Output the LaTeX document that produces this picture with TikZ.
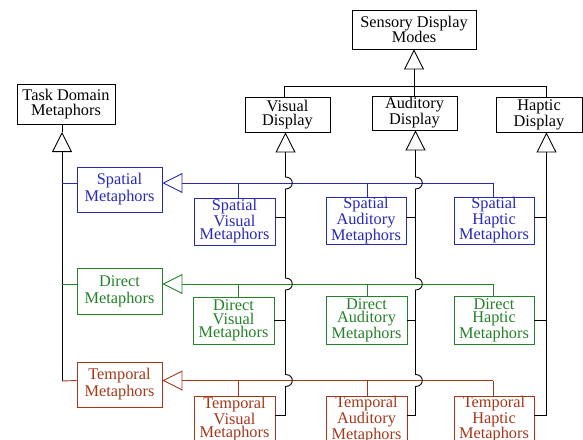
\documentclass[tikz,border=0pt]{standalone}
\usepackage{fontspec}
\setmainfont{Liberation Serif}
\usetikzlibrary{arrows.meta}
\definecolor{cblue}{RGB}{40,40,185}
\definecolor{cgreen}{RGB}{35,130,40}
\definecolor{cbrown}{RGB}{165,55,25}
\begin{document}
\begin{tikzpicture}[x=1pt,y=-1pt,line width=0.9pt,
  box/.style={draw,rectangle,inner sep=0pt,align=center,
    font=\fontsize{16.3}{14.5}\selectfont},
  lbox/.style={box,font=\fontsize{16.3}{17}\selectfont},
  tbox/.style={box,font=\fontsize{16.3}{13.2}\selectfont},
  inh/.style={-{Triangle[open,length=20pt,width=20pt,line width=0.9pt]}},
  bump/.style={}]
\useasboundingbox (0,0) rectangle (583,439);
% top boxes
\node[box,minimum width=124pt,minimum height=39pt] (sdm) at (414,29.5) {Sensory Display\\Modes};
\node[box,minimum width=85pt,minimum height=35pt] (vd) at (287.5,114.5) {Visual\\Display};
\node[box,minimum width=85pt,minimum height=34pt] (ad) at (414.5,113) {Auditory\\Display};
\node[box,minimum width=86pt,minimum height=35pt] (hd) at (539,114.5) {Haptic\\Display};
\node[box,minimum width=98pt,minimum height=40pt] (tdm) at (66,104) {Task Domain\\Metaphors};
% left metaphor boxes
\node[lbox,cblue,minimum width=85pt,minimum height=45pt] (sm) at (119.5,189.5) {Spatial\\Metaphors};
\node[lbox,cgreen,minimum width=85pt,minimum height=46pt] (dm) at (119.5,291) {Direct\\Metaphors};
\node[lbox,cbrown,minimum width=85pt,minimum height=45pt] (tm) at (119.5,384.5) {Temporal\\Metaphors};
% grid boxes
\node[tbox,cblue,minimum width=81pt,minimum height=47pt] (svm) at (234.5,221.5) {Spatial\\Visual\\Metaphors};
\node[tbox,cblue,minimum width=80pt,minimum height=47pt] (sam) at (366,220.5) {Spatial\\Auditory\\Metaphors};
\node[tbox,cblue,minimum width=80pt,minimum height=47pt] (shm) at (494,220.5) {Spatial\\Haptic\\Metaphors};
\node[tbox,cgreen,minimum width=81pt,minimum height=47pt] (dvm) at (233.5,320.5) {Direct\\Visual\\Metaphors};
\node[tbox,cgreen,minimum width=81pt,minimum height=48pt] (dam) at (366.5,320) {Direct\\Auditory\\Metaphors};
\node[tbox,cgreen,minimum width=80pt,minimum height=48pt] (dhm) at (494,320) {Direct\\Haptic\\Metaphors};
\node[tbox,cbrown,minimum width=81pt,minimum height=47pt] (tvm) at (234.5,419.5) {Temporal\\Visual\\Metaphors};
\node[tbox,cbrown,minimum width=81pt,minimum height=47pt] (tam) at (366.5,419.5) {Temporal\\Auditory\\Metaphors};
\node[tbox,cbrown,minimum width=80pt,minimum height=47pt] (thm) at (494,419.5) {Temporal\\Haptic\\Metaphors};
% coordinates
\coordinate (sj) at (414,86);
\coordinate (vj) at (284,86);
\coordinate (hj) at (546,86);
\coordinate (tj) at (62,132);
\coordinate (tb) at (62,381);
\coordinate (rowS) at (0,183);
\coordinate (rowD) at (0,284);
\coordinate (rowT) at (0,380.5);
\coordinate (dA) at (238,0);
\coordinate (dB) at (367,0);
\coordinate (dC) at (493,0);
\coordinate (vx) at (285.5,0);
\coordinate (ax) at (415.5,0);
\coordinate (hx) at (546.5,0);
\coordinate (cS) at (0,217.5);
\coordinate (cD) at (0,320);
\coordinate (cT) at (0,415);
% sensory tree
\draw[inh] (sj) -- (sdm.south);
\draw (vj) -- (hj);
\draw (vj) -- (vj |- vd.north);
\draw (hj) -- (hj |- hd.north);
\draw (sj) -- (sj |- ad.north);
% task domain
\draw (tj) -- (tj |- tdm.south);
\draw[inh] (tb) -- (tj);
% rows
\draw[cblue] (tb |- rowS) -- (sm.west |- rowS);
\draw[cgreen] (tb |- rowD) -- (dm.west |- rowD);
\draw[cbrown] (tb) -- (tm.west |- rowT);
\draw[cblue,inh] (dC |- rowS) -- (sm.east |- rowS);
\draw[cgreen,inh] (dC |- rowD) -- (dm.east |- rowD);
\draw[cbrown,inh] (dC |- rowT) -- (tm.east |- rowT);
\draw[cblue] (dA |- rowS) -- (dA |- svm.north) (dB |- rowS) -- (dB |- sam.north) (dC |- rowS) -- (dC |- shm.north);
\draw[cgreen] (dA |- rowD) -- (dA |- dvm.north) (dB |- rowD) -- (dB |- dam.north) (dC |- rowD) -- (dC |- dhm.north);
\draw[cbrown] (dA |- rowT) -- (dA |- tvm.north) (dB |- rowT) -- (dB |- tam.north) (dC |- rowT) -- (dC |- thm.north);
% display verticals
\draw[inh] (vx |- 0,160) -- (vx |- vd.south);
\draw[inh] (ax |- 0,160) -- (ax |- ad.south);
\draw[inh] (hx |- 0,160) -- (hx |- hd.south);
\foreach \c in {vx,ax}{
  \draw (\c |- 0,159) -- (\c |- 0,177) .. controls +(9,0) and +(9,0) .. (\c |- 0,189)
    -- (\c |- 0,278) .. controls +(9,0) and +(9,0) .. (\c |- 0,290)
    -- (\c |- 0,374.5) .. controls +(9,0) and +(9,0) .. (\c |- 0,386.5)
    -- (\c |- cT);
}
\draw (hx |- 0,159) -- (hx |- cT);
% connections to display lines
\draw (svm.east |- cS) -- (vx |- cS);
\draw (sam.east |- cS) -- (ax |- cS);
\draw (shm.east |- cS) -- (hx |- cS);
\draw (dvm.east |- cD) -- (vx |- cD);
\draw (dam.east |- cD) -- (ax |- cD);
\draw (dhm.east |- cD) -- (hx |- cD);
\draw (tvm.east |- cT) -- (vx |- cT);
\draw (tam.east |- cT) -- (ax |- cT);
\draw (thm.east |- cT) -- (hx |- cT);
\end{tikzpicture}
\end{document}
